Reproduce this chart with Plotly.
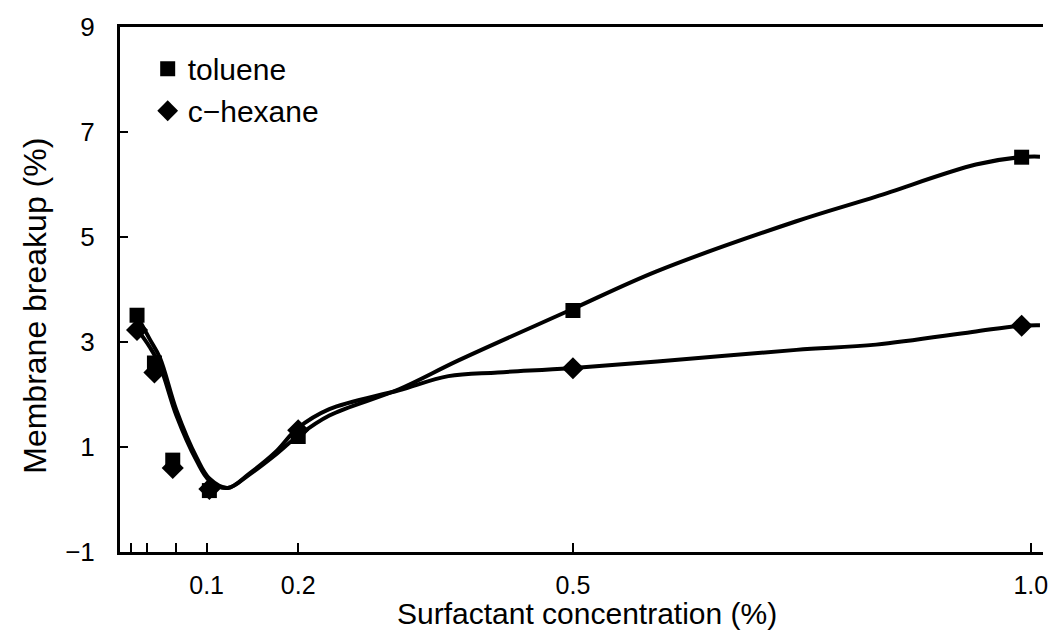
import plotly.graph_objects as go

# measured points
conc = [0.024, 0.043, 0.063, 0.103, 0.2, 0.5, 0.99]
toluene = [3.51, 2.6, 0.75, 0.17, 1.2, 3.6, 6.52]
hexane = [3.23, 2.42, 0.6, 0.2, 1.32, 2.5, 3.31]

# smoothed curves as drawn in the figure
tol_curve_x = [0.024, 0.038, 0.049, 0.067, 0.089, 0.103, 0.123, 0.147, 0.175,
               0.199, 0.234, 0.31, 0.375, 0.496, 0.592, 0.744, 0.831, 0.94, 0.988, 1.01]
tol_curve_y = [3.5, 3.05, 2.7, 1.7, 0.8, 0.4, 0.22, 0.48, 0.85,
               1.2, 1.6, 2.1, 2.65, 3.6, 4.35, 5.3, 5.77, 6.38, 6.52, 6.53]
hex_curve_x = [0.024, 0.038, 0.049, 0.067, 0.089, 0.103, 0.123, 0.147, 0.175,
               0.199, 0.234, 0.31, 0.364, 0.418, 0.496, 0.592, 0.744, 0.831, 0.936, 0.988, 1.01]
hex_curve_y = [3.25, 2.9, 2.55, 1.6, 0.74, 0.36, 0.22, 0.5, 0.9,
               1.35, 1.72, 2.08, 2.35, 2.42, 2.5, 2.63, 2.85, 2.95, 3.19, 3.31, 3.32]

x_tickvals = [0.017, 0.035, 0.066, 0.1, 0.2, 0.5, 1.0]
x_ticktext = ['', '', '', '0.1', '0.2', '0.5', '1.0']
y_tickvals = [-1, 1, 3, 5, 7, 9]

FONT = 'Liberation Sans, Arial, sans-serif'

fig = go.Figure()

fig.add_trace(go.Scatter(
    x=tol_curve_x, y=tol_curve_y, mode='lines', line_shape='spline',
    line=dict(color='black', width=4), showlegend=False, hoverinfo='skip',
))
fig.add_trace(go.Scatter(
    x=hex_curve_x, y=hex_curve_y, mode='lines', line_shape='spline',
    line=dict(color='black', width=4), showlegend=False, hoverinfo='skip',
))
fig.add_trace(go.Scatter(
    x=conc, y=toluene, mode='markers', name='toluene',
    marker=dict(symbol='square', size=15, color='black'),
))
fig.add_trace(go.Scatter(
    x=conc, y=hexane, mode='markers', name='c\u2212hexane',
    marker=dict(symbol='diamond', size=17, color='black'),
))

# axis titles placed as annotations so they sit where the original has them
fig.add_annotation(
    text='Membrane breakup (%)', textangle=-90,
    xref='paper', yref='paper', x=0, y=0.469, xshift=-85,
    xanchor='center', yanchor='middle', showarrow=False,
    font=dict(size=32),
)
fig.add_annotation(
    text='Surfactant concentration (%)',
    xref='paper', yref='paper', x=0.5065, y=-0.117,
    xanchor='center', yanchor='middle', showarrow=False,
    font=dict(size=30),
)

fig.update_layout(
    width=1060, height=637,
    paper_bgcolor='white', plot_bgcolor='white',
    margin=dict(l=120, r=12, t=21, b=85),
    font=dict(family=FONT, size=26, color='black'),
    legend=dict(x=0.030, y=0.970, xanchor='left', yanchor='top',
                bgcolor='rgba(0,0,0,0)', font=dict(size=30),
                itemwidth=30),
    xaxis=dict(
        range=[0.0054, 1.0133], tickvals=x_tickvals, ticktext=x_ticktext,
        ticks='inside', ticklen=9, tickwidth=1.5, tickcolor='black',
        showline=True, linewidth=3, linecolor='black', mirror=True,
        showgrid=False, zeroline=False, ticklabelstandoff=9,
        tickfont=dict(size=25),
    ),
    yaxis=dict(
        range=[-1, 9], tickvals=y_tickvals,
        ticks='inside', ticklen=8, tickwidth=1.5, tickcolor='black',
        showline=True, linewidth=3, linecolor='black',
        showgrid=False, zeroline=False, ticklabelstandoff=17,
        tickfont=dict(size=26),
    ),
)

fig.write_html(
    'out.html',
    config={'displayModeBar': False},
    post_script="document.body.style.margin='0';document.body.style.overflow='hidden';",
)
